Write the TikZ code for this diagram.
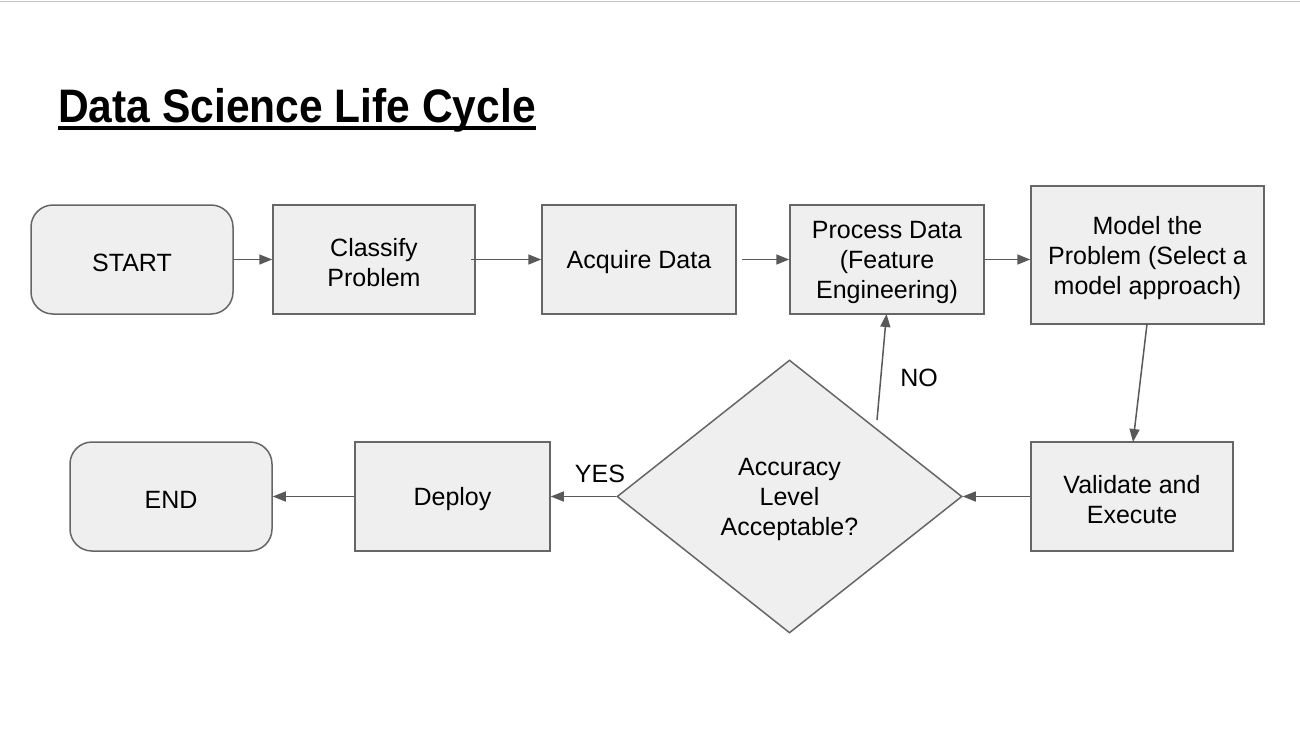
\documentclass[tikz,border=0pt]{standalone}
\usepackage{fontspec}
\setmainfont{Liberation Sans}
\usetikzlibrary{shapes.geometric,arrows.meta}
\definecolor{boxfill}{HTML}{EFEFEF}
\definecolor{boxline}{HTML}{666666}
\definecolor{arrowc}{HTML}{595959}
\definecolor{topline}{HTML}{C4C4C4}
\begin{document}
\begin{tikzpicture}[x=1pt,y=-1pt,
  every node/.style={inner sep=0pt},
  txt/.style={label={[font=\fontsize{25}{30}\selectfont, align=center, inner sep=0pt, yshift=-3pt]center:#1}},
  boxnode/.style={draw=boxline, fill=boxfill, line width=1.5pt, rectangle},
  termnode/.style={boxnode, rounded corners=22pt},
  decnode/.style={draw=boxline, fill=boxfill, line width=1.5pt, diamond, aspect=1.264},
  flow/.style={draw=arrowc, line width=1.5pt, -{Triangle[length=13pt,width=10pt]}},
  lbl/.style={font=\fontsize{25}{30}\selectfont}
]
\useasboundingbox (0,0) rectangle (1300,733);
\fill[white] (0,0) rectangle (1300,733);
\draw[topline, line width=1.5pt] (0,1.5) -- (1300,1.5);

\node[anchor=base west, font=\fontsize{47}{50}\selectfont\bfseries] (title) at (58,122) {\scalebox{0.905}[1]{Data Science Life Cycle}};
\draw[black, line width=4pt] ([yshift=-6pt]title.base west) -- ([yshift=-6pt]title.base east);

\node[termnode, minimum width=202pt, minimum height=109pt, txt={START}] (start) at (132,259.5) {};
\node[boxnode, minimum width=202pt, minimum height=109pt, txt={Classify\\Problem}] (classify) at (374,259.5) {};
\node[boxnode, minimum width=194pt, minimum height=109pt, txt={Acquire Data}] (acquire) at (639,259.5) {};
\node[boxnode, minimum width=194pt, minimum height=109pt, txt={Process Data\\(Feature\\Engineering)}] (process) at (887,259.5) {};
\node[boxnode, minimum width=233pt, minimum height=138pt, txt={Model the\\Problem (Select a\\model approach)}] (model) at (1147.5,255) {};
\node[boxnode, minimum width=202pt, minimum height=109pt, txt={Validate and\\Execute}] (validate) at (1132,496.5) {};
\node[decnode, minimum width=345pt, minimum height=273pt, txt={Accuracy\\Level\\Acceptable?}] (dec) at (789.5,496.5) {};
\node[boxnode, minimum width=195pt, minimum height=109pt, txt={Deploy}] (deploy) at (452.5,496.5) {};
\node[termnode, minimum width=202pt, minimum height=109pt, txt={END}] (end) at (171,496.5) {};

\coordinate (nostart) at (877,420);
\coordinate (noend) at (886.5,314);
\coordinate (mstart) at (1147,324);
\coordinate (mend) at (1133,442);
\coordinate (cstart) at (471,259.5);
\coordinate (astart) at (742,259.5);

\draw[flow] (start.east) -- (classify.west);
\draw[flow] (cstart) -- (acquire.west);
\draw[flow] (astart) -- (process.west);
\draw[flow] (process.east) -- (model.west |- process.east);
\draw[flow] (mstart) -- (mend);
\draw[flow] (validate.west) -- (dec.east);
\draw[flow] (dec.west) -- (deploy.east);
\draw[flow] (deploy.west) -- (end.east);
\draw[flow] (nostart) -- (noend);

\node[lbl] (no) at (919,378) {NO};
\node[lbl] (yes) at (600,474) {YES};
\end{tikzpicture}
\end{document}
